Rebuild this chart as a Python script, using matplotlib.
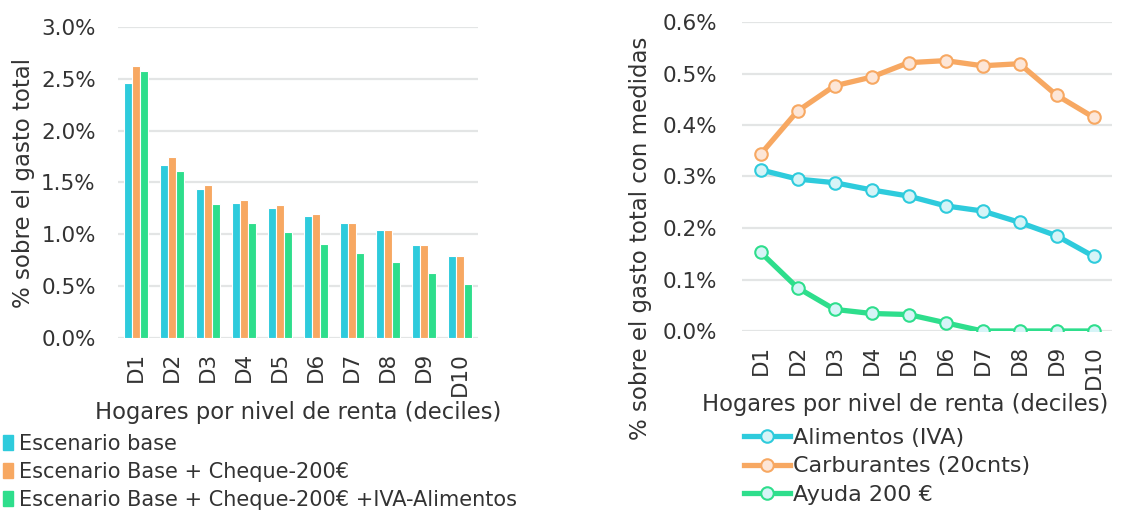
import matplotlib
matplotlib.use('Agg')
import matplotlib.pyplot as plt
import matplotlib.patches as patches
from matplotlib.lines import Line2D
import numpy as np

# data
deciles = ['D1', 'D2', 'D3', 'D4', 'D5', 'D6', 'D7', 'D8', 'D9', 'D10']

base = [2.46, 1.67, 1.44, 1.30, 1.25, 1.18, 1.11, 1.04, 0.90, 0.79]
base_cheque = [2.62, 1.75, 1.48, 1.33, 1.28, 1.20, 1.11, 1.04, 0.90, 0.79]
base_cheque_iva = [2.58, 1.61, 1.29, 1.11, 1.02, 0.91, 0.82, 0.73, 0.63, 0.52]
bar_labels = ['Escenario base', 'Escenario Base + Cheque-200€',
              'Escenario Base + Cheque-200€ +IVA-Alimentos']

alimentos = [0.313, 0.295, 0.288, 0.274, 0.262, 0.243, 0.233, 0.211, 0.185, 0.145]
carburantes = [0.343, 0.427, 0.476, 0.493, 0.521, 0.525, 0.515, 0.519, 0.458, 0.415]
ayuda = [0.153, 0.084, 0.042, 0.034, 0.032, 0.016, 0.0, 0.0, 0.0, 0.0]
line_labels = ['Alimentos (IVA)', 'Carburantes (20cnts)', 'Ayuda 200 €']

BLUE = '#2ECBDC'
ORANGE = '#F7A862'
GREEN = '#2EDE8C'
GRID = '#E3E5E5'
TXT = '#333333'

plt.rcParams['font.family'] = ['DejaVu Sans']
plt.rcParams['text.color'] = TXT

W, H = 1125, 515
fig = plt.figure(figsize=(W / 100, H / 100), dpi=100)

def px_axes(x0, y0, x1, y1):
    return fig.add_axes([x0 / W, 1 - y1 / H, (x1 - x0) / W, (y1 - y0) / H])

def style(ax, ymax, step, pad):
    ax.set_xlim(-0.5, 9.5)
    ax.set_ylim(0, ymax)
    ticks = np.arange(0, ymax + step / 2, step)
    ax.set_yticks(ticks)
    ax.set_yticklabels(['{:.1f}%'.format(t) for t in ticks])
    ax.set_xticks(range(len(deciles)))
    ax.set_xticklabels(deciles, rotation=90)
    for s in ax.spines.values():
        s.set_visible(False)
    ax.tick_params(length=0, labelsize=15.5, colors=TXT)
    ax.tick_params(axis='y', pad=pad)
    ax.tick_params(axis='x', pad=10)
    ax.grid(axis='y', color=GRID, lw=1.6)
    ax.set_axisbelow(True)
    ax.set_xlabel('Hogares por nivel de renta (deciles)', fontsize=16.3, color=TXT, labelpad=4)

# left: bars
ax1 = px_axes(118, 27, 478, 338)
x = np.arange(len(deciles))
bw = 0.215
for i, (vals, col) in enumerate(zip([base, base_cheque, base_cheque_iva], [BLUE, ORANGE, GREEN])):
    ax1.bar(x + (i - 1) * bw, vals, width=bw, color=col, edgecolor='white', linewidth=0.8)
style(ax1, 3.0, 0.5, 16)
ax1.set_ylabel('% sobre el gasto total', fontsize=16.5, color=TXT)
ax1.yaxis.set_label_coords(-0.23, 0.5)

handles = [patches.Patch(color=c) for c in [BLUE, ORANGE, GREEN]]
fig.legend(handles, bar_labels, loc='upper left', bbox_to_anchor=(3 / W, 1 - 434 / H),
           frameon=False, fontsize=15, handlelength=0.5, handleheight=0.7,
           handletextpad=0.25, labelspacing=0.38, borderpad=0, borderaxespad=0)

# right: lines
ax2 = px_axes(742, 22, 1112, 331)
series = [(alimentos, BLUE, '#D6F4F7'), (carburantes, ORANGE, '#FDE6D7'), (ayuda, GREEN, '#D6F4F7')]
for vals, col, face in series:
    ax2.plot(x, vals, color=col, lw=3.8, marker='o', markersize=9,
             markerfacecolor=face, markeredgecolor=col, markeredgewidth=1.5, zorder=3)
style(ax2, 0.6, 0.1, 18)
ax2.set_ylabel('% sobre el gasto total con medidas', fontsize=16.5, color=TXT)
ax2.yaxis.set_label_coords(-0.243, 0.30)
ax2.xaxis.set_label_coords(0.44, -0.2)
ax2.xaxis.label.set_va('top')

lh = [Line2D([0], [0], color=c, lw=3.8, marker='o', markersize=9, markerfacecolor=f,
             markeredgecolor=c, markeredgewidth=1.5) for _, c, f in series]
fig.legend(lh, line_labels, loc='upper left', bbox_to_anchor=(744 / W, 1 - 428 / H),
           frameon=False, fontsize=16, handlelength=2.05, handletextpad=0.15,
           labelspacing=0.38, borderpad=0, borderaxespad=0)

fig.savefig('out.png', dpi=100)
